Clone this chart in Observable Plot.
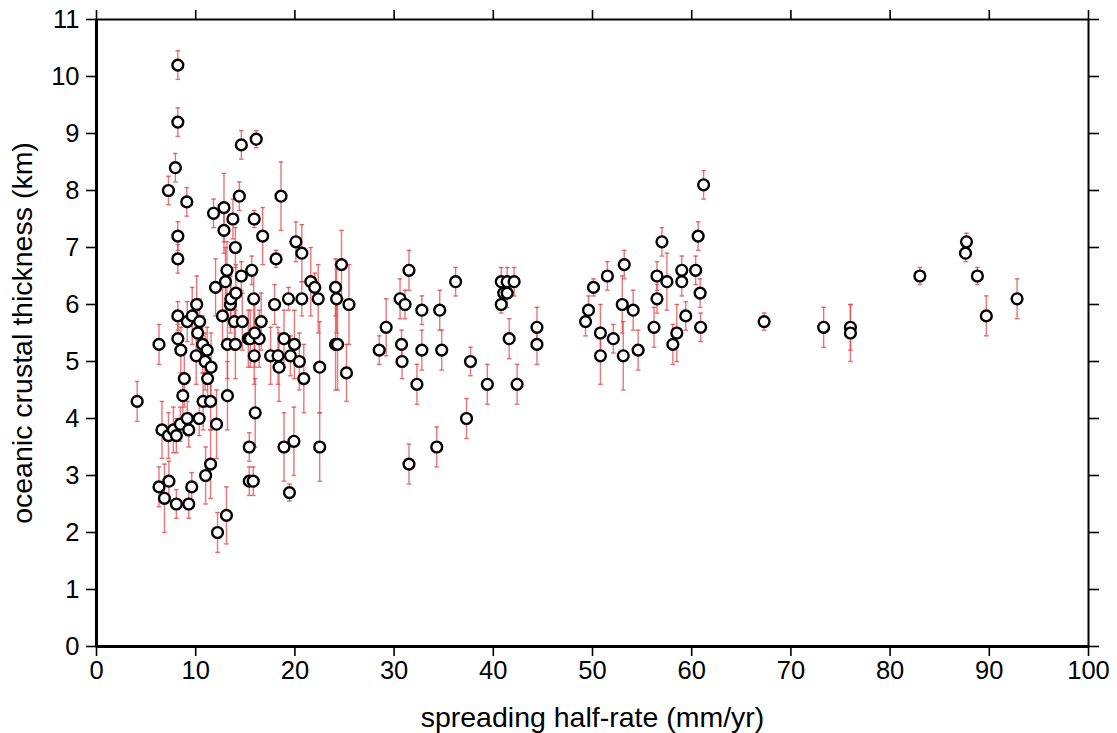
<!DOCTYPE html>
<html><head><meta charset="utf-8">
<script src="https://cdn.jsdelivr.net/npm/d3@7"></script>
<script src="https://cdn.jsdelivr.net/npm/@observablehq/plot@0.6"></script>
<style>html,body{margin:0;padding:0;background:#fff} #chart svg{display:block}</style>
</head><body><div id="chart"></div>
<script>
// spreading half-rate (mm/yr)
const rate = [
 4.1, 6.3, 6.6, 6.3, 6.85, 7.25, 7.75, 8.05, 7.3, 8.05,
 8.45, 9.3, 9.15, 9.6, 9.3, 10.35, 11.0, 11.5, 12.1, 12.2,
 13.1, 15.4, 15.4, 15.8, 18.9, 19.9, 19.45, 22.5, 8.7, 8.85,
 10.75, 11.5, 13.2, 16.0, 8.2, 9.15, 9.65, 10.4, 12.7, 13.9,
 14.7, 16.6, 10.2, 8.2, 10.7, 8.5, 11.15, 10.05, 10.95, 11.55,
 11.2, 13.2, 14.0, 15.3, 15.5, 16.4, 15.95, 15.9, 17.55, 18.3,
 18.4, 18.9, 19.95, 19.55, 20.45, 20.9, 22.5, 24.1, 24.3, 25.2,
 10.1, 12.0, 13.0, 13.5, 13.55, 14.05, 14.6, 13.15, 15.65, 15.85,
 17.95, 19.35, 20.7, 22.35, 24.2, 25.45, 21.6, 22.0, 24.1, 24.7,
 20.7, 20.1, 18.1, 14.0, 16.75, 8.2, 8.2, 12.85, 13.75, 15.9,
 11.8, 12.85, 9.1, 7.25, 14.4, 18.6, 7.95, 8.2, 8.2, 14.6,
 16.1,
 28.5, 29.2, 30.6, 31.1, 31.5, 30.75, 30.8, 31.5, 32.3, 32.8,
 32.8, 34.6, 34.8, 34.3, 36.2, 37.7, 37.3, 39.4, 40.8, 41.4,
 42.1, 41.05, 41.4, 40.8, 41.6, 42.4, 44.4, 44.4, 49.3, 49.6,
 50.1, 51.5, 53.2, 50.8, 50.8, 52.1, 53.0, 53.1, 54.1, 54.6,
 56.2, 56.5, 56.5, 57.0, 57.5, 58.1, 58.5, 59.0, 59.0, 59.4,
 60.4, 60.65, 61.2, 60.85, 60.9, 67.3, 73.3, 76.0, 76.0, 83.0,
 87.7, 87.6, 88.8, 89.7, 92.8
];
// oceanic crustal thickness (km)
const thickness = [
 4.3, 5.3, 3.8, 2.8, 2.6, 3.7, 3.8, 3.7, 2.9, 2.5,
 3.9, 3.8, 4.0, 2.8, 2.5, 4.0, 3.0, 3.2, 3.9, 2.0,
 2.3, 3.5, 2.9, 2.9, 3.5, 3.6, 2.7, 3.5, 4.4, 4.7,
 4.3, 4.3, 4.4, 4.1, 5.8, 5.7, 5.8, 5.7, 5.8, 5.7,
 5.7, 5.7, 5.5, 5.4, 5.3, 5.2, 5.2, 5.1, 5.0, 4.9,
 4.7, 5.3, 5.3, 5.4, 5.4, 5.4, 5.5, 5.1, 5.1, 5.1,
 4.9, 5.4, 5.3, 5.1, 5.0, 4.7, 4.9, 5.3, 5.3, 4.8,
 6.0, 6.3, 6.4, 6.0, 6.1, 6.2, 6.5, 6.6, 6.6, 6.1,
 6.0, 6.1, 6.1, 6.1, 6.1, 6.0, 6.4, 6.3, 6.3, 6.7,
 6.9, 7.1, 6.8, 7.0, 7.2, 7.2, 6.8, 7.3, 7.5, 7.5,
 7.6, 7.7, 7.8, 8.0, 7.9, 7.9, 8.4, 9.2, 10.2, 8.8,
 8.9,
 5.2, 5.6, 6.1, 6.0, 6.6, 5.3, 5.0, 3.2, 4.6, 5.9,
 5.2, 5.9, 5.2, 3.5, 6.4, 5.0, 4.0, 4.6, 6.4, 6.4,
 6.4, 6.2, 6.2, 6.0, 5.4, 4.6, 5.6, 5.3, 5.7, 5.9,
 6.3, 6.5, 6.7, 5.5, 5.1, 5.4, 6.0, 5.1, 5.9, 5.2,
 5.6, 6.5, 6.1, 7.1, 6.4, 5.3, 5.5, 6.6, 6.4, 5.8,
 6.6, 7.2, 8.1, 6.2, 5.6, 5.7, 5.6, 5.6, 5.5, 6.5,
 7.1, 6.9, 6.5, 5.8, 6.1
];
// one-sided uncertainty (km)
const uncertainty = [
 0.35, 0.35, 0.5, 0.35, 0.6, 0.4, 0.4, 0.3, 0.35, 0.25,
 0.3, 0.3, 0.3, 0.25, 0.25, 0.3, 0.5, 0.6, 0.6, 0.35,
 0.5, 0.25, 0.25, 0.25, 0.6, 0.6, 0.15, 0.6, 0.4, 0.5,
 0.5, 0.5, 0.6, 0.6, 0.25, 0.35, 0.5, 0.4, 0.5, 0.5,
 0.5, 0.5, 0.4, 0.25, 0.5, 0.4, 0.4, 0.5, 0.5, 0.6,
 0.5, 0.6, 0.6, 0.5, 0.5, 0.5, 0.6, 0.5, 0.5, 0.5,
 0.6, 0.5, 0.6, 0.35, 0.5, 0.6, 0.8, 0.8, 0.8, 0.5,
 0.5, 0.5, 0.6, 0.5, 0.5, 0.5, 0.25, 0.5, 0.25, 0.5,
 0.35, 0.2, 0.3, 0.6, 0.6, 0.7, 0.6, 0.25, 0.5, 0.6,
 0.5, 0.35, 0.15, 0.35, 0.5, 0.25, 0.25, 0.4, 0.35, 0.15,
 0.25, 0.6, 0.25, 0.25, 0.25, 0.6, 0.25, 0.25, 0.25, 0.25,
 0.15,
 0.25, 0.5, 0.35, 0.25, 0.35, 0.25, 0.3, 0.35, 0.35, 0.25,
 0.35, 0.35, 0.35, 0.35, 0.25, 0.25, 0.35, 0.35, 0.25, 0.25,
 0.25, 0.25, 0.25, 0.15, 0.35, 0.35, 0.35, 0.35, 0.25, 0.25,
 0.15, 0.25, 0.25, 0.5, 0.5, 0.25, 0.5, 0.6, 0.35, 0.35,
 0.35, 0.25, 0.25, 0.25, 0.5, 0.35, 0.5, 0.25, 0.25, 0.25,
 0.25, 0.25, 0.25, 0.25, 0.25, 0.15, 0.35, 0.4, 0.5, 0.15,
 0.15, 0.15, 0.15, 0.35, 0.35
];
const xTicks = [0, 10, 20, 30, 40, 50, 60, 70, 80, 90, 100];
const yTicks = [0, 1, 2, 3, 4, 5, 6, 7, 8, 9, 10, 11];
const xTitle = "spreading half-rate (mm/yr)";
const yTitle = "oceanic crustal thickness (km)";

const data = rate.map((x, i) => ({x, y: thickness[i], e: uncertainty[i]}));
const cap = {draw(ctx, size) { const w = Math.sqrt(size / Math.PI); ctx.moveTo(-w, 0); ctx.lineTo(w, 0); }};
const errColor = "#e4484b";

const chart = Plot.plot({
  width: 1117, height: 733,
  marginLeft: 96, marginRight: 29, marginTop: 19, marginBottom: 87,
  style: {fontFamily: "'Liberation Sans', Arial, Helvetica, sans-serif", background: "white", color: "black"},
  x: {domain: [0, 100]},
  y: {domain: [0, 11]},
  marks: [
    Plot.ruleX(data, {x: "x", y1: d => d.y - d.e, y2: d => d.y + d.e, stroke: errColor, strokeOpacity: 0.75, strokeWidth: 1.4}),
    Plot.dot(data, {x: "x", y: d => d.y + d.e, symbol: cap, r: 2.3, stroke: errColor, strokeOpacity: 0.8, strokeWidth: 1.4}),
    Plot.dot(data, {x: "x", y: d => d.y - d.e, symbol: cap, r: 2.3, stroke: errColor, strokeOpacity: 0.8, strokeWidth: 1.4}),
    Plot.dot(data, {x: "x", y: "y", r: 5.4, stroke: "black", strokeWidth: 2.4, fill: "white"}),
    Plot.frame({stroke: "black", strokeWidth: 2}),
    Plot.ruleX([0], {stroke: "black", strokeWidth: 3}),
    Plot.ruleY([0], {stroke: "black", strokeWidth: 3}),
    Plot.axisX({anchor: "bottom", ticks: xTicks, tickSize: 10, tickPadding: 4, fontSize: 25.5, strokeWidth: 1.6, label: null}),
    Plot.axisX({anchor: "top", ticks: xTicks, tickSize: 10, tickFormat: () => "", strokeWidth: 1.6, label: null}),
    Plot.axisY({anchor: "left", ticks: yTicks, tickSize: 10, tickPadding: 7, fontSize: 25.5, strokeWidth: 1.6, label: null}),
    Plot.axisY({anchor: "right", ticks: yTicks, tickSize: 10, tickFormat: () => "", strokeWidth: 1.6, label: null}),
    Plot.text([xTitle], {frameAnchor: "bottom", dy: 71, lineAnchor: "middle", textAnchor: "middle", fontSize: 28.5, text: d => d}),
    Plot.text([yTitle], {frameAnchor: "left", dx: -74, rotate: -90, textAnchor: "middle", lineAnchor: "middle", fontSize: 28.5, text: d => d})
  ]
});
document.getElementById("chart").appendChild(chart);
</script>
</body></html>
